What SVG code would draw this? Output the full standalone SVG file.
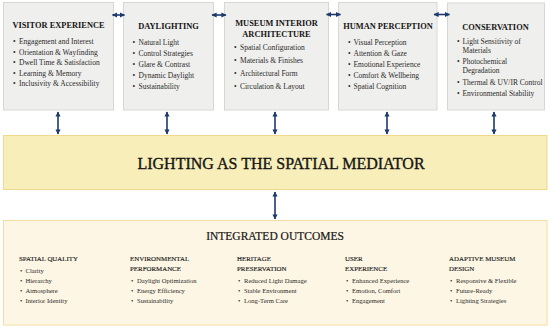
<svg xmlns="http://www.w3.org/2000/svg" width="550" height="327" viewBox="0 0 550 327" font-family="'Liberation Serif', 'Times New Roman', serif">
<defs>
<marker id="ah" viewBox="0 0 10 10" refX="9" refY="5" markerWidth="3.2" markerHeight="3.2" orient="auto-start-reverse" markerUnits="strokeWidth">
<path d="M0,0 L10,5 L0,10 z" fill="#1c3a6c"/>
</marker>
<style>
.top{fill:#efefed;stroke:#d8d8d3;stroke-width:1}
.med{fill:#f7eeb9;stroke:#efd98c;stroke-width:1}
.out{fill:#fdf6e4;stroke:#f3dea0;stroke-width:1}
text{font-family:"Liberation Serif","Times New Roman",serif;fill:#2a2a2a}
.h{font-size:8.4px;fill:#151515;font-weight:bold}
.i{font-size:7.5px}
.t{font-size:16px;fill:#151515;text-anchor:middle;stroke:#151515;stroke-width:0.35}
.oh{font-size:11.5px;fill:#151515;text-anchor:middle;stroke:#151515;stroke-width:0.2}
.ch{font-size:6.9px;fill:#1a1a1a;stroke:#1a1a1a;stroke-width:0.15}
.ci{font-size:6.6px}
.c{text-anchor:middle}
.con line{stroke:#1c3a6c;stroke-width:1.6;marker-start:url(#ah);marker-end:url(#ah)}
</style>
</defs>

<g id="visitor-experience">
<rect class="top" x="3.5" y="2.5" width="110" height="107.5"/>
<text class="h c" x="58.5" y="28">VISITOR EXPERIENCE</text>
<text class="i"><tspan x="13" y="44">•</tspan><tspan x="19" y="44">Engagement and Interest</tspan>
<tspan x="13" y="54.5">•</tspan><tspan x="19" y="54.5">Orientation &amp; Wayfinding</tspan>
<tspan x="13" y="65">•</tspan><tspan x="19" y="65">Dwell Time &amp; Satisfaction</tspan>
<tspan x="13" y="75.5">•</tspan><tspan x="19" y="75.5">Learning &amp; Memory</tspan>
<tspan x="13" y="86">•</tspan><tspan x="19" y="86">Inclusivity &amp; Accessibility</tspan></text>
</g>

<g id="daylighting">
<rect class="top" x="123.5" y="2.5" width="90" height="107.5"/>
<text class="h c" x="168.5" y="29">DAYLIGHTING</text>
<text class="i"><tspan x="132.5" y="45">•</tspan><tspan x="138.5" y="45">Natural Light</tspan>
<tspan x="132.5" y="56">•</tspan><tspan x="138.5" y="56">Control Strategies</tspan>
<tspan x="132.5" y="66.8">•</tspan><tspan x="138.5" y="66.8">Glare &amp; Contrast</tspan>
<tspan x="132.5" y="77.7">•</tspan><tspan x="138.5" y="77.7">Dynamic Daylight</tspan>
<tspan x="132.5" y="88.5">•</tspan><tspan x="138.5" y="88.5">Sustainability</tspan></text>
</g>

<g id="museum-interior-architecture">
<rect class="top" x="224.5" y="2.5" width="104" height="107.5"/>
<text class="h c" x="276.5" y="26">MUSEUM INTERIOR</text>
<text class="h c" x="276.5" y="37">ARCHITECTURE</text>
<text class="i"><tspan x="234" y="50">•</tspan><tspan x="240" y="50">Spatial Configuration</tspan>
<tspan x="234" y="63">•</tspan><tspan x="240" y="63">Materials &amp; Finishes</tspan>
<tspan x="234" y="75.5">•</tspan><tspan x="240" y="75.5">Architectural Form</tspan>
<tspan x="234" y="88.5">•</tspan><tspan x="240" y="88.5">Circulation &amp; Layout</tspan></text>
</g>

<g id="human-perception">
<rect class="top" x="338.5" y="2.5" width="98.5" height="107.5"/>
<text class="h c" x="388" y="29">HUMAN PERCEPTION</text>
<text class="i"><tspan x="348" y="45">•</tspan><tspan x="353.5" y="45">Visual Perception</tspan>
<tspan x="348" y="56">•</tspan><tspan x="353.5" y="56">Attention &amp; Gaze</tspan>
<tspan x="348" y="66.8">•</tspan><tspan x="353.5" y="66.8">Emotional Experience</tspan>
<tspan x="348" y="77.7">•</tspan><tspan x="353.5" y="77.7">Comfort &amp; Wellbeing</tspan>
<tspan x="348" y="88.5">•</tspan><tspan x="353.5" y="88.5">Spatial Cognition</tspan></text>
</g>

<g id="conservation">
<rect class="top" x="447.5" y="3" width="97" height="107"/>
<text class="h c" x="495.5" y="30">CONSERVATION</text>
<text class="i"><tspan x="457" y="44">•</tspan><tspan x="462.5" y="44">Light Sensitivity of</tspan>
<tspan x="462.5" y="53">Materials</tspan>
<tspan x="457" y="64">•</tspan><tspan x="462.5" y="64">Photochemical</tspan>
<tspan x="462.5" y="73">Degradation</tspan>
<tspan x="457" y="84.5">•</tspan><tspan x="462.5" y="84.5">Thermal &amp; UV/IR Control</tspan>
<tspan x="457" y="96">•</tspan><tspan x="462.5" y="96">Environmental Stability</tspan></text>
</g>

<g id="lighting-spatial-mediator">
<rect class="med" x="3.5" y="135.5" width="543.5" height="54"/>
<text class="t" x="281" y="168.5">LIGHTING AS THE SPATIAL MEDIATOR</text>
</g>

<g id="integrated-outcomes">
<rect class="out" x="3.5" y="220.5" width="543.5" height="104.5"/>
<text class="oh" x="275" y="240">INTEGRATED OUTCOMES</text>
<text class="ch" x="19" y="260.5">SPATIAL QUALITY</text>
<text class="ci"><tspan x="20" y="273">•</tspan><tspan x="25.5" y="273">Clarity</tspan>
<tspan x="20" y="283">•</tspan><tspan x="25.5" y="283">Hierarchy</tspan>
<tspan x="20" y="293">•</tspan><tspan x="25.5" y="293">Atmosphere</tspan>
<tspan x="20" y="303">•</tspan><tspan x="25.5" y="303">Interior Identity</tspan></text>
<text class="ch"><tspan x="130" y="260.5">ENVIRONMENTAL</tspan><tspan x="130" y="271">PERFORMANCE</tspan></text>
<text class="ci"><tspan x="131" y="283">•</tspan><tspan x="137" y="283">Daylight Optimization</tspan>
<tspan x="131" y="293">•</tspan><tspan x="137" y="293">Energy Efficiency</tspan>
<tspan x="131" y="303">•</tspan><tspan x="137" y="303">Sustainability</tspan></text>
<text class="ch"><tspan x="237" y="260.5">HERITAGE</tspan><tspan x="237" y="271">PRESERVATION</tspan></text>
<text class="ci"><tspan x="238" y="283">•</tspan><tspan x="244" y="283">Reduced Light Damage</tspan>
<tspan x="238" y="293">•</tspan><tspan x="244" y="293">Stable Environment</tspan>
<tspan x="238" y="303">•</tspan><tspan x="244" y="303">Long-Term Care</tspan></text>
<text class="ch"><tspan x="345" y="260.5">USER</tspan><tspan x="345" y="271">EXPERIENCE</tspan></text>
<text class="ci"><tspan x="346" y="283">•</tspan><tspan x="352" y="283">Enhanced Experience</tspan>
<tspan x="346" y="293">•</tspan><tspan x="352" y="293">Emotion, Comfort</tspan>
<tspan x="346" y="303">•</tspan><tspan x="352" y="303">Engagement</tspan></text>
<text class="ch"><tspan x="449" y="260.5">ADAPTIVE MUSEUM</tspan><tspan x="449" y="271">DESIGN</tspan></text>
<text class="ci"><tspan x="450" y="283">•</tspan><tspan x="456" y="283">Responsive &amp; Flexible</tspan>
<tspan x="450" y="293">•</tspan><tspan x="456" y="293">Future-Ready</tspan>
<tspan x="450" y="303">•</tspan><tspan x="456" y="303">Lighting Strategies</tspan></text>
</g>

<g id="connectors" class="con">
<line x1="112.5" y1="15" x2="124.5" y2="15"/>
<line x1="212" y1="15" x2="226" y2="15"/>
<line x1="326.5" y1="14.5" x2="340.5" y2="14.5"/>
<line x1="434" y1="14.5" x2="449.5" y2="14.5"/>
<line x1="58" y1="112" x2="58" y2="134"/>
<line x1="167" y1="112" x2="167" y2="134"/>
<line x1="275" y1="112" x2="275" y2="134"/>
<line x1="387" y1="112" x2="387" y2="134"/>
<line x1="494" y1="112" x2="494" y2="134"/>
<line x1="275" y1="192" x2="275" y2="219"/>
</g>
</svg>
